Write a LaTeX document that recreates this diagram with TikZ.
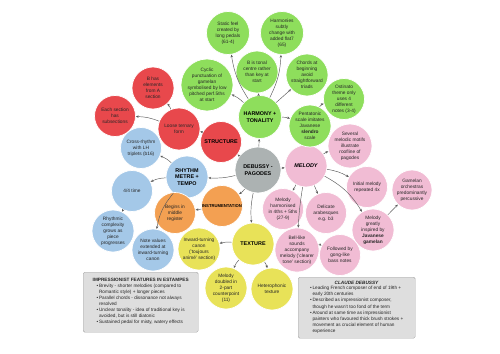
\documentclass[tikz,border=0pt]{standalone}
\usepackage{fontspec}
\setmainfont{Liberation Sans}
\usetikzlibrary{arrows.meta}
\definecolor{harmgreen}{RGB}{142,222,92}
\definecolor{strucred}{RGB}{232,72,76}
\definecolor{rhyblue}{RGB}{164,200,232}
\definecolor{melpink}{RGB}{241,188,212}
\definecolor{instrorange}{RGB}{243,160,82}
\definecolor{texyellow}{RGB}{232,226,88}
\definecolor{centregray}{RGB}{172,178,178}

\begin{document}
\begin{tikzpicture}[x=1pt, y=-1pt,
  bubble/.style={circle, draw=white, line width=0.7pt, align=center, inner sep=0pt, text=black!85, font=\fontsize{4.8}{5.9}\selectfont},
  hub/.style={bubble, text=black, font=\fontsize{5.4}{6.4}\selectfont\bfseries},
  arr/.style={-{Stealth[length=2.8pt,width=2.4pt]}, draw=black!65, line width=0.45pt},
  infobox/.style={draw=black!35, fill=black!13, rounded corners=1.5pt, align=center, inner sep=3pt, anchor=north west, text=black!85, font=\fontsize{4.7}{6.1}\selectfont}
]
\useasboundingbox (0,0) rectangle (500,353);

% hubs
\node[hub, fill=centregray, minimum size=46pt] (deb) at (258,170) {DEBUSSY -\\PAGODES};
\node[hub, fill=harmgreen, minimum size=43pt] (harm) at (260,117) {HARMONY +\\TONALITY};
\node[hub, fill=strucred, minimum size=41pt] (struc) at (221,142) {STRUCTURE};
\node[hub, fill=rhyblue, minimum size=42pt] (rhy) at (187,177) {RHYTHM\\METRE +\\TEMPO};
\node[hub, fill=melpink, minimum size=42pt] (mel) at (306,166) {\itshape MELODY};
\node[hub, fill=instrorange, minimum size=41pt, font=\fontsize{4.2}{5}\selectfont\bfseries] (instr) at (222,206) {INSTRUMENTATION};
\node[hub, fill=texyellow, minimum size=42pt] (tex) at (253,244) {TEXTURE};

% harmony + tonality
\node[bubble, fill=harmgreen, minimum size=43pt] (static) at (228,33) {Static feel\\created by\\long pedals\\(61-4)};
\node[bubble, fill=harmgreen, minimum size=43pt] (subtle) at (282,33) {Harmonies\\subtly\\change with\\added flat7\\(65)};
\node[bubble, fill=harmgreen, minimum size=42pt] (tonal) at (257,72) {B is tonal\\centre rather\\than key at\\start};
\node[bubble, fill=harmgreen, minimum size=42pt] (chords) at (307,75) {Chords at\\beginning\\avoid\\straightforward\\triads};
\node[bubble, fill=harmgreen, minimum size=52pt] (cyclic) at (207,85) {Cyclic\\punctuation of\\gamelan\\symbolised by low\\pitched perf.5ths\\at start};
\node[bubble, fill=harmgreen, minimum size=41pt] (ostin) at (344,99) {Ostinato\\theme only\\uses 4\\different\\notes (3-4)};
\node[bubble, fill=harmgreen, minimum size=42pt] (penta) at (310,126) {Pentatonic\\scale imitates\\Javanese\\\textbf{slendro}\\scale};

% structure
\node[bubble, fill=strucred, minimum size=42pt] (ternary) at (179,129) {Loose ternary\\form};
\node[bubble, fill=strucred, minimum size=42pt] (bhas) at (153,88) {B has\\elements\\from A\\section};
\node[bubble, fill=strucred, minimum size=41pt] (subsec) at (115,116) {Each section\\has\\subsections};

% rhythm
\node[bubble, fill=rhyblue, minimum size=41pt] (cross) at (141,148) {Cross-rhythm\\with LH\\triplets (b16)};
\node[bubble, fill=rhyblue, minimum size=41pt] (four) at (132,191) {4/4 time};
\node[bubble, fill=rhyblue, minimum size=42pt] (complex) at (113,231) {Rhythmic\\complexity\\grows as\\piece\\progresses};
\node[bubble, fill=rhyblue, minimum size=42pt] (values) at (153,250) {Note values\\extended at\\inward-turning\\canon};

% instrumentation
\node[bubble, fill=instrorange, minimum size=41pt] (register) at (175,213) {Begins in\\middle\\register};

% texture
\node[bubble, fill=texyellow, minimum size=42pt] (canon) at (199,249) {Inward-turning\\canon\\('toujours\\animé' section)};
\node[bubble, fill=texyellow, minimum size=42pt] (doubled) at (226,288) {Melody\\doubled in\\2-part\\counterpoint\\(11)};
\node[bubble, fill=texyellow, minimum size=42pt] (hetero) at (272,289) {Heterophonic\\texture};

% melody
\node[bubble, fill=melpink, minimum size=44pt] (motifs) at (350,146) {Several\\melodic motifs\\illustrate\\roofline of\\pagodes};
\node[bubble, fill=melpink, minimum size=41pt] (repeat) at (367,187) {Initial melody\\repeated 4x};
\node[bubble, fill=melpink, minimum size=40pt] (gamorch) at (412,190) {Gamelan\\orchestras\\predominantly\\percussive};
\node[bubble, fill=melpink, minimum size=42pt] (inspired) at (373,230) {Melody\\greatly\\inspired by\\\textbf{Javanese}\\\textbf{gamelan}};
\node[bubble, fill=melpink, minimum size=41pt] (arab) at (326,213) {Delicate\\arabesques\\e.g. b3};
\node[bubble, fill=melpink, minimum size=41pt] (fourths) at (283,209) {Melody\\harmonised\\in 4ths + 5ths\\(27-9)};
\node[bubble, fill=melpink, minimum size=43pt] (bell) at (297,250) {Bell-like\\sounds\\accompany\\melody ('clearer\\tone' section)};
\node[bubble, fill=melpink, minimum size=41pt] (gong) at (340,255) {Followed by\\gong-like\\bass notes};

% connectors
\draw[arr] (deb) -- (harm);
\draw[arr] (deb) -- (struc);
\draw[arr] (deb) to[bend left=8] (rhy);
\draw[arr] (deb) -- (mel);
\draw[arr] (deb) to[bend left=10] (instr);
\draw[arr] (deb) to[bend right=8] (tex);
\draw[arr] (harm) to[bend left=12] (static);
\draw[arr] (harm) to[bend right=12] (subtle);
\draw[arr] (harm) -- (tonal);
\draw[arr] (harm) -- (chords);
\draw[arr] (harm) to[bend right=10] (cyclic);
\draw[arr] (harm) to[bend left=10] (penta);
\draw[arr] (penta) to[bend left=25] (ostin);
\draw[arr] (struc) to[bend right=10] (ternary);
\draw[arr] (ternary) to[bend right=10] (bhas);
\draw[arr] (ternary) to[bend right=10] (subsec);
\draw[arr] (rhy) to[bend right=10] (cross);
\draw[arr] (rhy) to[bend right=12] (four);
\draw[arr] (four) -- (complex);
\draw[arr] (rhy) to[bend right=15] (values);
\draw[arr] (instr) -- (register);
\draw[arr] (tex) to[bend right=10] (canon);
\draw[arr] (tex) to[bend right=10] (doubled);
\draw[arr] (tex) to[bend left=10] (hetero);
\draw[arr] (mel) to[bend left=10] (motifs);
\draw[arr] (mel) to[bend left=10] (repeat);
\draw[arr] (mel) to[bend left=15] (inspired);
\draw[arr] (mel) -- (arab);
\draw[arr] (mel) -- (fourths);
\draw[arr] (mel) to[bend right=3] (bell);
\draw[arr] (bell) to[bend left=20] (gong);
\draw[arr] (inspired) -- (gamorch);

% info boxes
\node[infobox, minimum width=115pt, minimum height=60pt] (features) at (83,272) {%
  \textbf{IMPRESSIONIST FEATURES IN ESTAMPES}\\
  \begin{tabular}{@{}l@{\,}l@{}}
  \textbullet & Brevity - shorter melodies (compared to\\
   & Romantic style) + longer pieces\\
  \textbullet & Parallel chords - dissonance not always\\
   & resolved\\
  \textbullet & Unclear tonality - idea of traditional key is\\
   & avoided, but is still diatonic\\
  \textbullet & Sustained pedal for misty, watery effects
  \end{tabular}};
\node[infobox, minimum width=117pt, minimum height=61pt] (composer) at (298,277) {%
  \textbf{\itshape CLAUDE DEBUSSY}\\
  \begin{tabular}{@{}l@{\,}l@{}}
  \textbullet & Leading French composer of end of 19th +\\
   & early 20th centuries\\
  \textbullet & Described as impressionist composer,\\
   & though he wasn't too fond of the term\\
  \textbullet & Around at same time as impressionist\\
   & painters who favoured thick brush strokes +\\
   & movement as crucial element of human\\
   & experience
  \end{tabular}};
\end{tikzpicture}
\end{document}
